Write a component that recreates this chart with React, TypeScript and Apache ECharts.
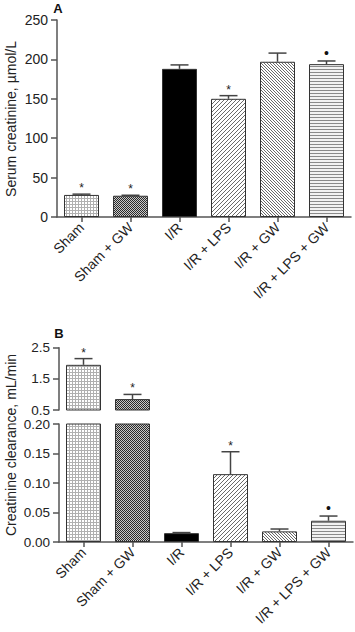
import React, { useEffect, useRef } from "react";
import * as echarts from "echarts";

const categories = ["Sham", "Sham + GW", "I/R", "I/R + LPS", "I/R + GW", "I/R + LPS + GW"];
const creatinineMean = [28, 27, 188, 150, 197, 194];
const creatinineSem = [1, 0.6, 5, 4, 11, 4];
const creatinineMarks = ["*", "*", "", "*", "", "•"];
const clearanceMean = [1.95, 0.85, 0.015, 0.115, 0.018, 0.036];
const clearanceSem = [0.2, 0.15, 0.001, 0.038, 0.004, 0.008];
const clearanceMarks = ["*", "*", "", "*", "", "•"];
const upperIdx = [0, 1];
const lowerIdx = [2, 3, 4, 5];

const FONT = "Liberation Sans, Arial, sans-serif";

function makeTile(size: number, draw: (ctx: CanvasRenderingContext2D) => void) {
  const c = document.createElement("canvas");
  c.width = size;
  c.height = size;
  const ctx = c.getContext("2d")!;
  draw(ctx);
  return { image: c, repeat: "repeat" };
}

function buildPatterns() {
  const px = (ctx: CanvasRenderingContext2D, x: number, y: number, col: string) => {
    ctx.fillStyle = col;
    ctx.fillRect(x, y, 1, 1);
  };
  const grid = makeTile(3, (ctx) => {
    ctx.fillStyle = "#ffffff";
    ctx.fillRect(0, 0, 3, 3);
    ctx.fillStyle = "#b0b0b0";
    ctx.fillRect(0, 0, 3, 1);
    ctx.fillRect(0, 0, 1, 3);
  });
  const checker = makeTile(2, (ctx) => {
    ctx.fillStyle = "#c8c8c8";
    ctx.fillRect(0, 0, 2, 2);
    px(ctx, 0, 0, "#2a2a2a");
    px(ctx, 1, 1, "#2a2a2a");
  });
  const rising = makeTile(4, (ctx) => {
    ctx.fillStyle = "#ffffff";
    ctx.fillRect(0, 0, 4, 4);
    for (let x = 0; x < 4; x++) px(ctx, x, 3 - x, "#6a6a6a");
  });
  const falling = makeTile(3, (ctx) => {
    ctx.fillStyle = "#ffffff";
    ctx.fillRect(0, 0, 3, 3);
    for (let x = 0; x < 3; x++) px(ctx, x, x, "#6a6a6a");
  });
  const horiz = makeTile(3, (ctx) => {
    ctx.fillStyle = "#f2f2f2";
    ctx.fillRect(0, 0, 3, 3);
    ctx.fillStyle = "#8a8a8a";
    ctx.fillRect(0, 0, 3, 1);
  });
  return [grid, checker, "#000000", rising, falling, horiz];
}

const axisLineStyle = { color: "#555", width: 1.5 };

function errorSeries(means: number[], sems: number[], marks: string[], idxs: number[], xi: number, yi: number) {
  return {
    type: "custom",
    xAxisIndex: xi,
    yAxisIndex: yi,
    silent: true,
    z: 5,
    data: idxs.map((i) => [i, means[i], means[i] + sems[i]]),
    renderItem: (params: any, api: any) => {
      const i = api.value(0);
      const base = api.coord([i, api.value(1)]);
      const top = api.coord([i, api.value(2)]);
      const children: any[] = [
        { type: "line", shape: { x1: base[0], y1: base[1], x2: top[0], y2: top[1] }, style: { stroke: "#444", lineWidth: 1.5 } },
        { type: "line", shape: { x1: top[0] - 9, y1: top[1], x2: top[0] + 9, y2: top[1] }, style: { stroke: "#444", lineWidth: 1.5 } },
      ];
      const m = marks[i];
      if (m === "*") {
        children.push({ type: "text", x: top[0], y: top[1] - 6, style: { text: "*", fontSize: 12, fontFamily: FONT, fill: "#222", align: "center", verticalAlign: "middle" } });
      } else if (m) {
        children.push({ type: "text", x: top[0], y: top[1] - 8, style: { text: m, fontSize: 14, fontFamily: FONT, fill: "#111", align: "center", verticalAlign: "middle" } });
      }
      return { type: "group", children };
    },
  };
}

export default function App() {
  const ref = useRef<HTMLDivElement>(null);
  useEffect(() => {
    document.body.style.margin = "0";
    const chart = echarts.init(ref.current!, null, { renderer: "svg" });
    const patterns = buildPatterns();
    const barData = (vals: number[], keep?: number[]) =>
      vals.map((v, i) =>
        keep && !keep.includes(i) ? "-" : { value: v, itemStyle: { color: patterns[i] } }
      );
    const catAxis = (gridIndex: number, show: boolean) => ({
      type: "category",
      gridIndex,
      data: categories,
      show,
      axisLine: { show: true, lineStyle: axisLineStyle },
      axisTick: { show: true, alignWithLabel: true, length: 5, lineStyle: axisLineStyle },
      axisLabel: { rotate: 45, fontSize: 14, fontFamily: FONT, color: "#222", margin: 8, interval: 0 },
    });
    const valAxis = (gridIndex: number, min: number, max: number, interval: number, digits: number, size: number, padding: number[]) => ({
      type: "value",
      gridIndex,
      min,
      max,
      interval,
      splitLine: { show: false },
      axisLine: { show: true, lineStyle: axisLineStyle },
      axisTick: { show: true, length: 6, lineStyle: axisLineStyle },
      axisLabel: { fontSize: size, fontFamily: FONT, color: "#222", margin: 9, padding, formatter: (v: number) => v.toFixed(digits) },
    });
    const barStyle = { borderColor: "#333", borderWidth: 1 };
    chart.setOption({
      animation: false,
      grid: [
        { left: 57, top: 20, width: 294, height: 197 },
        { left: 59, top: 347.7, width: 294, height: 62.3 },
        { left: 59, top: 424, width: 294, height: 118 },
      ],
      xAxis: [catAxis(0, true), catAxis(1, false), catAxis(2, true)],
      yAxis: [
        valAxis(0, 0, 250, 50, 0, 14, [0, 0, 0, 0]),
        valAxis(1, 0.5, 2.5, 1, 1, 13.5, [0, 0, 3, 0]),
        valAxis(2, 0, 0.2, 0.05, 2, 13.5, [3, 0, 0, 0]),
      ],
      graphic: [
        { type: "text", x: 58, y: 8, style: { text: "A", fontSize: 13, fontWeight: "bold", fontFamily: FONT, fill: "#111", align: "center", verticalAlign: "middle" } },
        { type: "text", x: 59, y: 333, style: { text: "B", fontSize: 13, fontWeight: "bold", fontFamily: FONT, fill: "#111", align: "center", verticalAlign: "middle" } },
        { type: "text", x: 11, y: 119, rotation: Math.PI / 2, style: { text: "Serum creatinine, µmol/L", fontSize: 14, fontFamily: FONT, fill: "#222", align: "center", verticalAlign: "middle" } },
        { type: "text", x: 11, y: 445, rotation: Math.PI / 2, style: { text: "Creatinine clearance, mL/min", fontSize: 14, fontFamily: FONT, fill: "#222", align: "center", verticalAlign: "middle" } },
      ],
      series: [
        { type: "bar", xAxisIndex: 0, yAxisIndex: 0, barWidth: 35, itemStyle: barStyle, data: barData(creatinineMean), clip: true },
        { type: "bar", xAxisIndex: 1, yAxisIndex: 1, barWidth: 35, itemStyle: barStyle, data: barData(clearanceMean, upperIdx), clip: true },
        { type: "bar", xAxisIndex: 2, yAxisIndex: 2, barWidth: 35, itemStyle: barStyle, data: barData(clearanceMean), clip: true },
        errorSeries(creatinineMean, creatinineSem, creatinineMarks, [0, 1, 2, 3, 4, 5], 0, 0),
        errorSeries(clearanceMean, clearanceSem, clearanceMarks, upperIdx, 1, 1),
        errorSeries(clearanceMean, clearanceSem, clearanceMarks, lowerIdx, 2, 2),
      ],
    });
    return () => chart.dispose();
  }, []);
  return <div ref={ref} style={{ width: 355, height: 632 }} />;
}
